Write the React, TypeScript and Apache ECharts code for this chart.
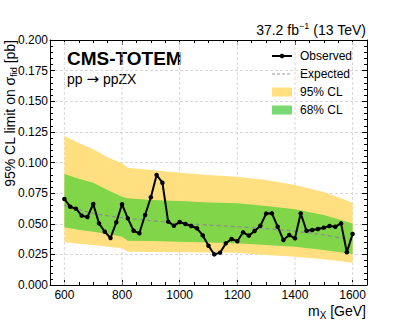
import React, { useEffect, useRef } from 'react';
import * as echarts from 'echarts';

// Observed limits (GeV, pb)
const obsMass = [
  600, 620, 640, 660, 680, 700, 720, 740, 760, 780,
  800, 820, 840, 860, 880, 900, 920, 940, 960, 980,
  1000, 1020, 1040, 1060, 1080, 1100, 1120, 1140, 1160, 1180,
  1200, 1220, 1240, 1260, 1280, 1300, 1320, 1340, 1360, 1380,
  1400, 1420, 1440, 1460, 1480, 1500, 1520, 1540, 1560, 1580, 1600,
];
const obsLimit = [
  0.0702, 0.0639, 0.0623, 0.0566, 0.0555, 0.0661, 0.0503, 0.0435, 0.0384, 0.0512,
  0.0659, 0.0544, 0.0443, 0.0422, 0.0571, 0.0716, 0.0898, 0.0835, 0.0517, 0.0484,
  0.0514, 0.0498, 0.0482, 0.0463, 0.0405, 0.0321, 0.0250, 0.0264, 0.0340, 0.0376,
  0.0357, 0.0430, 0.0403, 0.0441, 0.0484, 0.0583, 0.0585, 0.0476, 0.0367, 0.0408,
  0.0381, 0.0585, 0.0443, 0.0449, 0.0457, 0.0468, 0.0482, 0.0476, 0.0503, 0.0267, 0.0416,
];

// Expected limit and bands
const bandMass = [600, 650, 700, 750, 800, 820, 900, 1000, 1100, 1200, 1300, 1400, 1500, 1600];
const expLimit = [0.0650, 0.0615, 0.0585, 0.0565, 0.0550, 0.0545, 0.0525, 0.0503, 0.0490, 0.0476, 0.0460, 0.0440, 0.0410, 0.0367];
const up95 = [0.1216, 0.1160, 0.1108, 0.1042, 0.0993, 0.0958, 0.0939, 0.0917, 0.0898, 0.0884, 0.0857, 0.0816, 0.0760, 0.0672];
const up68 = [0.0906, 0.0868, 0.0835, 0.0776, 0.0721, 0.0708, 0.0694, 0.0686, 0.0674, 0.0667, 0.0645, 0.0618, 0.0571, 0.0503];
const lo68 = [0.0471, 0.0452, 0.0435, 0.0416, 0.0394, 0.0362, 0.0360, 0.0354, 0.0347, 0.0340, 0.0327, 0.0313, 0.0286, 0.0253];
const lo95 = [0.0348, 0.0337, 0.0327, 0.0313, 0.0300, 0.0272, 0.0270, 0.0267, 0.0265, 0.0264, 0.0245, 0.0231, 0.0210, 0.0182];

const xMajorTicks = [600, 800, 1000, 1200, 1400, 1600];
const xMinorTicks = [650, 700, 750, 850, 900, 950, 1050, 1100, 1150, 1250, 1300, 1350, 1450, 1500, 1550];

const FONT = "'Liberation Sans', Arial, Helvetica, sans-serif";
const YELLOW = '#FFDF7F';
const GREEN = '#80D548';
const GREEN_LEG = '#78DA72';
const GRID_COLOR = '#d8d8d8';

export default function App() {
  const ref = useRef<HTMLDivElement>(null);

  useEffect(() => {
    document.body.style.margin = '0';
    if (!ref.current) return;
    const chart = echarts.init(ref.current, undefined, { renderer: 'svg' });

    const tickLine = { color: '#000', width: 1 };
    const noSplit = { splitLine: { show: false }, minorSplitLine: { show: false }, splitArea: { show: false } };

    const makeX = (position: string, major: boolean, showLine: boolean, labels: boolean) => ({
      type: 'value',
      min: 550,
      max: 1650,
      gridIndex: 0,
      position,
      ...noSplit,
      axisLine: { show: showLine, onZero: false, lineStyle: { color: '#000', width: 1 } },
      axisTick: {
        show: true,
        inside: true,
        length: major ? 5 : 3,
        customValues: major ? xMajorTicks : xMinorTicks,
        lineStyle: tickLine,
      },
      axisLabel: labels
        ? {
            show: true,
            customValues: xMajorTicks,
            margin: 4,
            fontSize: 12,
            color: '#000',
            fontFamily: FONT,
            formatter: (v: number) => String(v),
          }
        : { show: false },
    });

    const option: any = {
      animation: false,
      backgroundColor: '#fff',
      grid: { left: 50, right: 40, top: 40, bottom: 41, containLabel: false },
      xAxis: [
        makeX('bottom', true, true, true),
        makeX('bottom', false, false, false),
        makeX('top', true, true, false),
        makeX('top', false, false, false),
      ],
      yAxis: [
        {
          type: 'value',
          position: 'left',
          min: 0,
          max: 0.2,
          interval: 0.025,
          axisLine: { show: true, onZero: false, lineStyle: { color: '#000', width: 1 } },
          axisTick: { show: true, inside: true, length: 5, lineStyle: tickLine },
          minorTick: { show: true, splitNumber: 5, length: 3, lineStyle: tickLine },
          axisLabel: {
            show: true,
            margin: 2,
            fontSize: 12,
            color: '#000',
            fontFamily: FONT,
            formatter: (v: number) => v.toFixed(3),
          },
          splitLine: { show: true, lineStyle: { color: GRID_COLOR, width: 1, type: [3, 2] } },
          minorSplitLine: { show: false },
        },
        {
          type: 'value',
          position: 'right',
          min: 0,
          max: 0.2,
          interval: 0.025,
          axisLine: { show: true, onZero: false, lineStyle: { color: '#000', width: 1 } },
          axisTick: { show: true, inside: true, length: 5, lineStyle: tickLine },
          minorTick: { show: true, splitNumber: 5, length: 3, lineStyle: tickLine },
          axisLabel: { show: false },
          ...noSplit,
        },
      ],
      series: [
        {
          name: 'xgrid',
          type: 'custom',
          xAxisIndex: 0,
          yAxisIndex: 0,
          silent: true,
          z: 1,
          data: xMajorTicks.map((v) => [v, 0]),
          renderItem: (params: any, api: any) => {
            const x = api.value(0);
            const p0 = api.coord([x, 0]);
            const p1 = api.coord([x, 0.2]);
            return {
              type: 'line',
              shape: { x1: p0[0], y1: p0[1], x2: p1[0], y2: p1[1] },
              style: { stroke: GRID_COLOR, lineWidth: 1, lineDash: [3, 2] },
            };
          },
        },
        {
          name: 'bands',
          type: 'custom',
          xAxisIndex: 0,
          yAxisIndex: 0,
          silent: true,
          z: 2,
          clip: true,
          data: [
            [bandMass[0], up95[0]],
            [bandMass[0], up68[0]],
          ],
          renderItem: (params: any, api: any) => {
            const idx = params.dataIndex;
            const upper = idx === 0 ? up95 : up68;
            const lower = idx === 0 ? lo95 : lo68;
            const pts: number[][] = [];
            for (let i = 0; i < bandMass.length; i++) pts.push(api.coord([bandMass[i], upper[i]]));
            for (let i = bandMass.length - 1; i >= 0; i--) pts.push(api.coord([bandMass[i], lower[i]]));
            return {
              type: 'polygon',
              shape: { points: pts },
              style: { fill: idx === 0 ? YELLOW : GREEN, stroke: 'none' },
            };
          },
        },
        {
          name: 'Expected',
          type: 'line',
          z: 3,
          data: bandMass.map((m, i) => [m, expLimit[i]]),
          symbol: 'none',
          lineStyle: { color: '#8c8c8c', width: 1.2, type: [4, 3] },
          silent: true,
        },
        {
          name: 'Observed',
          type: 'line',
          z: 4,
          data: obsMass.map((m, i) => [m, obsLimit[i]]),
          symbol: 'circle',
          symbolSize: 4.5,
          showAllSymbol: true,
          itemStyle: { color: '#000', borderColor: '#000', borderWidth: 0 },
          lineStyle: { color: '#000', width: 2 },
          silent: true,
        },
      ],
      graphic: [
        {
          type: 'text',
          x: 366,
          y: 30,
          style: {
            text: '{a|37.2 fb}{s|−1}{a| (13 TeV)}',
            align: 'right',
            verticalAlign: 'middle',
            rich: {
              a: { fontSize: 14, fontFamily: FONT, fill: '#000', lineHeight: 18 },
              s: { fontSize: 9, fontFamily: FONT, fill: '#000', verticalAlign: 'top' },
            },
          },
        },
        {
          type: 'text',
          x: 67,
          y: 58,
          style: {
            text: 'CMS-TOTEM',
            font: `bold 19px ${FONT}`,
            fill: '#000',
            align: 'left',
            verticalAlign: 'middle',
          },
        },
        {
          type: 'text',
          x: 67,
          y: 79,
          style: {
            text: '{a|pp }{r|→}{a| ppZX}',
            align: 'left',
            verticalAlign: 'middle',
            rich: {
              a: { fontSize: 14, fontFamily: FONT, fill: '#000', lineHeight: 18 },
              r: { fontSize: 15, fontFamily: "'DejaVu Sans'", fill: '#000', lineHeight: 18 },
            },
          },
        },
        // Legend
        {
          type: 'line',
          shape: { x1: 272, y1: 56, x2: 292, y2: 56 },
          style: { stroke: '#000', lineWidth: 2 },
        },
        {
          type: 'circle',
          shape: { cx: 282, cy: 56, r: 2.3 },
          style: { fill: '#000' },
        },
        {
          type: 'line',
          shape: { x1: 272, y1: 74, x2: 292, y2: 74 },
          style: { stroke: '#9a9a9a', lineWidth: 1, lineDash: [3, 2] },
        },
        {
          type: 'rect',
          shape: { x: 272, y: 87.5, width: 20, height: 9 },
          style: { fill: YELLOW },
        },
        {
          type: 'rect',
          shape: { x: 272, y: 105.5, width: 20, height: 9 },
          style: { fill: GREEN_LEG },
        },
        ...[
          ['Observed', 56],
          ['Expected', 74],
          ['95% CL', 92],
          ['68% CL', 110],
        ].map(([t, y]) => ({
          type: 'text',
          x: 300,
          y: y as number,
          style: {
            text: t as string,
            font: `12px ${FONT}`,
            fill: '#000',
            align: 'left',
            verticalAlign: 'middle',
          },
        })),
        // Axis titles
        {
          type: 'text',
          x: 366,
          y: 311,
          style: {
            text: '{a|m}{b|X}{a| [GeV]}',
            align: 'right',
            verticalAlign: 'middle',
            rich: {
              a: { fontSize: 14, fontFamily: FONT, fill: '#000', lineHeight: 18 },
              b: { fontSize: 10, fontFamily: FONT, fill: '#000', verticalAlign: 'bottom' },
            },
          },
        },
        {
          type: 'text',
          x: 10,
          y: 40,
          rotation: Math.PI / 2,
          style: {
            text: '{a|95% CL limit on σ}{b|fid}{a| [pb]}',
            align: 'right',
            verticalAlign: 'middle',
            rich: {
              a: { fontSize: 14, fontFamily: FONT, fill: '#000', lineHeight: 16 },
              b: { fontSize: 9, fontFamily: FONT, fill: '#000', verticalAlign: 'bottom' },
            },
          },
        },
      ],
    };

    chart.setOption(option);
    return () => chart.dispose();
  }, []);

  return <div ref={ref} style={{ width: 407, height: 326 }} />;
}
